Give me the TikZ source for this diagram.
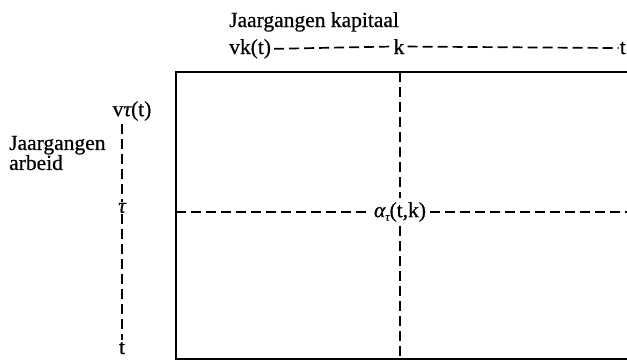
\documentclass[tikz,border=0pt]{standalone}
\usepackage{fontspec}
\setmainfont{Liberation Serif}[FakeBold=0.6]
\newcommand{\gtau}{{\itshape τ}}
\newcommand{\galpha}{{\itshape α}}
\begin{document}
\begin{tikzpicture}[x=1pt,y=-1pt,
  lbl/.style={inner sep=3pt,font=\fontsize{21.5}{23}\selectfont},
  dsh/.style={line width=1.7pt,dash pattern=on 10pt off 5pt},
  frame/.style={line width=1.9pt}]
\useasboundingbox (0,0) rectangle (627,360);
% top axis
\node[lbl,anchor=base west,inner sep=0pt] (titlek) at (229,27) {Jaargangen kapitaal};
\node[lbl,anchor=base west] (vk) at (226,54) {vk(t)};
\node[lbl,anchor=base] (k) at (399,54) {k};
\node[lbl,anchor=base east,inner sep=1pt] (tk) at (627,54) {t};
\draw[dsh] (vk.east) -- (k.west);
\draw[dsh] (k.east) -- (tk.west);
% left axis
\node[lbl,anchor=west,align=left,inner sep=0pt] (titlel) at (9,153) {Jaargangen\\[-3pt]arbeid};
\node[lbl,inner sep=1pt] (vtau) at (132,111) {v\gtau(t)};
\node[lbl,inner sep=1pt] (tau) at (122,208) {\gtau};
\node[lbl,inner sep=2pt] (tl) at (122,348) {t};
\coordinate (ltop) at (122,124);
\draw[dsh] (ltop) -- (tau.north);
\draw[dsh] (tau.south) -- (tl.north);
% frame
\coordinate (tr) at (627,72);
\coordinate (tlc) at (176,72);
\coordinate (bl) at (176,359);
\coordinate (br) at (627,359);
\draw[frame] (tr) -- (tlc) -- (bl) -- (br);
% inner
\node[lbl,inner sep=4pt] (alpha) at (400,212) {\galpha\raisebox{-0.35ex}{\fontsize{12}{12}\selectfont\gtau}(t,k)};
\coordinate (vtop) at (400,72);
\coordinate (vbot) at (400,359);
\coordinate (hl) at (176,212);
\coordinate (hr) at (627,212);
\draw[dsh] (vtop) -- (alpha.north);
\draw[dsh] (alpha.south) -- (vbot);
\draw[dsh] (hl) -- (alpha.west);
\draw[dsh] (alpha.east) -- (hr);
\end{tikzpicture}
\end{document}
